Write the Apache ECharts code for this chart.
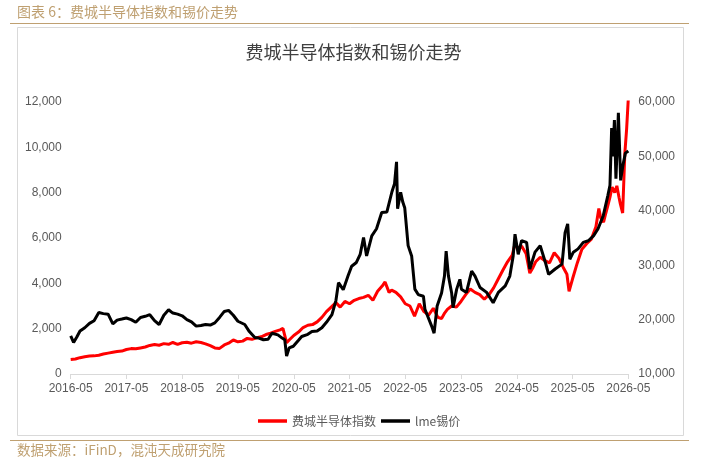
<!DOCTYPE html>
<html>
<head>
<meta charset="utf-8">
<script src="https://cdn.jsdelivr.net/npm/echarts@6/dist/echarts.min.js"></script>
<style>
html,body{margin:0;padding:0;background:#fff;}
#chart{width:707px;height:460px;}
</style>
</head>
<body>
<div id="chart"></div>
<script>
// ---- data ----
const yearTicks = ['2016-05-01','2017-05-01','2018-05-01','2019-05-01','2020-05-01','2021-05-01','2022-05-01','2023-05-01','2024-05-01','2025-05-01','2026-05-01'];

const soxDates = ['2016-05-01','2016-06-01','2016-07-01','2016-08-01','2016-09-01','2016-10-01','2016-11-01','2016-12-01',
'2017-01-01','2017-02-01','2017-03-01','2017-04-01','2017-05-01','2017-06-01','2017-07-01','2017-08-01','2017-09-01','2017-10-01','2017-11-01','2017-12-01',
'2018-01-01','2018-02-01','2018-03-01','2018-04-01','2018-05-01','2018-06-01','2018-07-01','2018-08-01','2018-09-01','2018-10-01','2018-11-01','2018-12-01',
'2019-01-01','2019-02-01','2019-03-01','2019-04-01','2019-05-01','2019-06-01','2019-07-01','2019-08-01','2019-09-01','2019-10-01','2019-11-01','2019-12-01',
'2020-01-01','2020-02-01','2020-02-20','2020-03-15','2020-04-01','2020-05-01','2020-06-01','2020-07-01','2020-08-01','2020-09-01','2020-10-01','2020-11-01','2020-12-01',
'2021-01-01','2021-02-01','2021-03-01','2021-04-01','2021-05-01','2021-06-01','2021-07-01','2021-08-01','2021-09-01','2021-10-01','2021-11-01','2021-12-01','2021-12-20',
'2022-01-15','2022-02-01','2022-03-01','2022-04-01','2022-05-01','2022-06-01','2022-07-01','2022-08-01','2022-09-01','2022-10-01','2022-11-01','2022-12-01','2022-12-25',
'2023-01-15','2023-02-01','2023-03-01','2023-04-01','2023-05-01','2023-06-01','2023-07-01','2023-08-01','2023-09-01','2023-10-01','2023-11-01','2023-12-01',
'2024-01-01','2024-02-01','2024-03-01','2024-04-01','2024-04-19','2024-05-15','2024-06-01','2024-07-01','2024-07-25','2024-08-15','2024-09-01','2024-10-01','2024-11-01','2024-12-01',
'2025-01-01','2025-02-01','2025-03-01','2025-03-25','2025-04-08','2025-05-01','2025-06-01','2025-07-01','2025-08-01','2025-09-01','2025-10-01','2025-10-20','2025-11-01','2025-11-20','2025-12-01','2025-12-15',
'2026-01-01','2026-01-15','2026-02-01','2026-02-15','2026-03-01','2026-03-10','2026-03-25','2026-04-08','2026-04-20','2026-05-01'];
const soxValues = [640,660,720,760,790,800,830,880,
920,960,990,1010,1080,1120,1110,1150,1190,1260,1300,1270,
1340,1310,1390,1310,1380,1400,1360,1420,1390,1330,1250,1150,
1130,1280,1360,1500,1420,1450,1570,1530,1600,1640,1740,1800,
1880,1950,2010,1380,1500,1700,1850,2050,2150,2180,2300,2500,2750,
2950,3150,2950,3200,3100,3250,3330,3380,3470,3250,3650,3880,4060,
3600,3700,3600,3400,3100,3000,2550,3100,2750,2600,2900,2500,2450,
2700,2850,3000,2950,3200,3500,3750,3600,3500,3300,3500,3800,
4200,4600,4950,5250,5750,5500,5650,5300,4450,4700,4950,5150,5000,4900,
5350,5100,4700,4400,3650,4200,4900,5500,5750,5950,6500,7300,6900,6700,7000,7350,
7800,8250,8000,8300,7800,7500,7100,9700,10800,12150];

const tinDates = ['2016-05-01','2016-05-20','2016-06-10','2016-07-01','2016-08-01','2016-09-01','2016-10-01','2016-11-01','2016-12-01',
'2017-01-01','2017-02-01','2017-03-01','2017-04-01','2017-05-01','2017-06-01','2017-07-01','2017-08-01','2017-09-01','2017-10-01','2017-11-01','2017-12-01',
'2018-01-01','2018-02-01','2018-03-01','2018-04-01','2018-05-01','2018-06-01','2018-07-01','2018-08-01','2018-09-01','2018-10-01','2018-11-01','2018-12-01',
'2019-01-01','2019-02-01','2019-03-01','2019-04-01','2019-05-01','2019-06-15','2019-07-15','2019-08-20','2019-09-15','2019-10-15','2019-11-15','2019-12-10',
'2020-01-18','2020-02-15','2020-03-03','2020-03-15','2020-04-01','2020-04-28','2020-06-01','2020-06-22','2020-08-01','2020-08-28','2020-10-01','2020-11-01','2020-12-01',
'2021-01-06','2021-02-01','2021-02-18','2021-03-21','2021-04-21','2021-05-15','2021-06-15','2021-07-10','2021-08-01','2021-08-21','2021-09-24','2021-10-25','2021-11-28',
'2022-01-01','2022-02-03','2022-02-20','2022-03-05','2022-03-12','2022-04-01','2022-04-15','2022-04-28','2022-05-20','2022-06-12','2022-07-03','2022-07-25','2022-08-28','2022-09-07','2022-10-21','2022-11-06','2022-11-26','2022-12-25',
'2023-01-13','2023-01-24','2023-02-08','2023-03-01','2023-03-10','2023-04-03','2023-04-24','2023-05-04','2023-06-06','2023-07-10','2023-08-01','2023-09-03','2023-10-16','2023-11-28',
'2024-01-01','2024-02-15','2024-03-16','2024-04-07','2024-04-19','2024-05-10','2024-06-01','2024-07-04','2024-07-25','2024-08-28','2024-10-01','2024-11-04','2024-11-25',
'2025-01-07','2025-02-21','2025-03-13','2025-03-30','2025-04-13','2025-05-06','2025-06-06','2025-07-10','2025-08-12','2025-09-15','2025-10-15','2025-11-18','2025-12-18',
'2026-01-01','2026-01-12','2026-01-20','2026-01-30','2026-02-09','2026-02-16','2026-02-25','2026-03-12','2026-03-27','2026-04-12','2026-05-01'];
const tinValues = [17000,15800,16800,17900,18500,19300,19800,21300,21100,
21000,19200,19900,20100,20300,20000,19500,20400,20600,20900,19800,19100,
20800,21800,21200,21000,20700,20000,19600,18800,18900,19100,19000,19400,
20400,21500,21700,20800,19700,19100,17800,16700,16600,16300,16400,17500,
17200,16600,16300,13300,14800,15100,16200,16900,17300,17800,17900,18500,19500,
20900,23500,26800,25500,28000,29800,30500,32000,35100,31700,35400,36700,39700,
39800,43500,45000,49000,40400,43400,41600,40500,33600,31700,25600,24600,24300,21900,18800,17500,22500,24900,
28000,32600,28000,24900,22200,25600,27400,25600,25000,28900,28000,25900,25000,23100,
25000,26200,28000,31700,35700,32000,34500,34200,29300,32400,33600,30500,28300,
29300,30200,36000,37600,31100,32400,33000,34200,34500,35400,36700,39100,42800,
44700,55200,50000,56700,45900,51000,58000,45600,48400,50600,51000];

const seriesNames = ['费城半导体指数', 'lme锡价'];

// ---- helpers ----
function toTs(s){ const p = s.split('-').map(Number); return Date.UTC(p[0], p[1]-1, p[2]); }
function zip(ds, vs){ return ds.map((d,i)=>[toTs(d), vs[i]]); }
function fmtThousands(v){ return String(v).replace(/\B(?=(\d{3})+(?!\d))/g, ','); }
function fmtMonth(v){ const d = new Date(v); return d.getUTCFullYear() + '-' + String(d.getUTCMonth()+1).padStart(2,'0'); }

const tickTs = yearTicks.map(toTs);
const gold = '#BFA071';
const numFont = "'Liberation Sans', 'Noto Sans CJK SC', sans-serif";
const cjkFont = "'Noto Sans CJK SC', sans-serif";

const chart = echarts.init(document.getElementById('chart'), null, {renderer:'canvas'});
chart.setOption({
  animation: false,
  backgroundColor: '#ffffff',
  graphic: [
    { type:'rect', z:-10, shape:{x:17.5, y:27.5, width:666, height:408}, style:{fill:'#ffffff', stroke:'#D9D9D9', lineWidth:1} },
    { type:'line', z:-5, shape:{x1:10, y1:23.5, x2:689, y2:23.5}, style:{stroke:gold, lineWidth:1.2} },
    { type:'line', z:-5, shape:{x1:10, y1:440.5, x2:689, y2:440.5}, style:{stroke:gold, lineWidth:1.2} },
    { type:'text', left:17, top:5, style:{text:'图表 6：费城半导体指数和锡价走势', fill:gold, font:"14px 'Noto Sans CJK SC', sans-serif"} },
    { type:'text', left:17, top:443, style:{text:'数据来源：iFinD，混沌天成研究院', fill:gold, font:"13.5px 'Noto Sans CJK SC', sans-serif"} }
  ],
  title: {
    text: '费城半导体指数和锡价走势',
    left: 'center', top: 38,
    textStyle: { fontSize: 18, fontWeight: 'normal', color: '#404040', fontFamily: cjkFont }
  },
  legend: {
    data: seriesNames,
    left: 253, top: 410,
    icon: 'rect', itemWidth: 29, itemHeight: 3.5, itemGap: 5,
    textStyle: { fontSize: 12, color: '#595959', fontFamily: cjkFont }
  },
  grid: { left: 70.7, right: 78.7, top: 102, bottom: 86 },
  xAxis: {
    type: 'value',
    min: tickTs[0], max: tickTs[tickTs.length-1],
    axisLine: { show: true, lineStyle: { color: '#D9D9D9', width: 1 } },
    axisTick: { show: true, length: 5, lineStyle: { color: '#D9D9D9' }, customValues: tickTs },
    axisLabel: { customValues: tickTs, formatter: fmtMonth, color: '#595959', fontSize: 12, fontFamily: numFont, margin: 9 },
    splitLine: { show: false }
  },
  yAxis: [
    { type: 'value', min: 0, max: 12000, interval: 2000,
      axisLine: { show: false }, axisTick: { show: false }, splitLine: { show: false },
      axisLabel: { formatter: fmtThousands, color: '#595959', fontSize: 12, fontFamily: numFont, margin: 9 } },
    { type: 'value', min: 10000, max: 60000, interval: 10000, position: 'right',
      axisLine: { show: false }, axisTick: { show: false }, splitLine: { show: false },
      axisLabel: { formatter: fmtThousands, color: '#595959', fontSize: 12, fontFamily: numFont, margin: 10 } }
  ],
  series: [
    { name: seriesNames[0], type: 'line', yAxisIndex: 0, data: zip(soxDates, soxValues),
      showSymbol: false, symbol: 'none', color: '#FF0000', lineStyle: { width: 3, color: '#FF0000' }, z: 2 },
    { name: seriesNames[1], type: 'line', yAxisIndex: 1, data: zip(tinDates, tinValues),
      showSymbol: false, symbol: 'none', color: '#000000', lineStyle: { width: 3, color: '#000000' }, z: 3 }
  ]
});
</script>
</body>
</html>
